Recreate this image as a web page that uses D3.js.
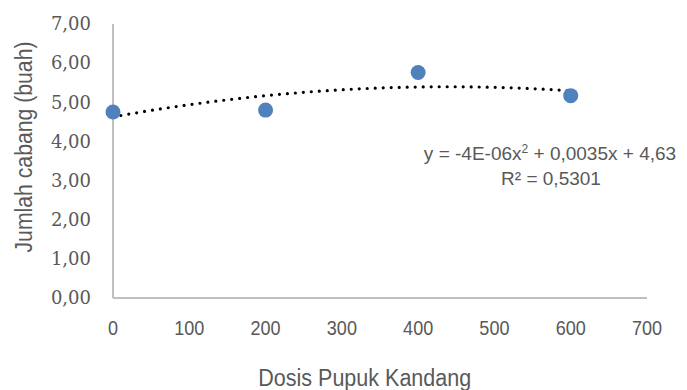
<!DOCTYPE html>
<html lang="id">
<head>
<meta charset="utf-8">
<title>Jumlah cabang</title>
<script src="https://cdn.jsdelivr.net/npm/d3@7"></script>
<style>
  body { margin: 0; background: #fff; }
  .ytick text { font-family: "DejaVu Serif", serif; font-size: 18px; fill: #595959; }
  .xtick text { font-family: "Liberation Sans", Arial, sans-serif; font-size: 21px; fill: #595959; }
  .title, .eq { font-family: "Liberation Sans", Arial, sans-serif; fill: #595959; }
  .domain-line { stroke: #bfbfbf; stroke-width: 1.5; shape-rendering: crispEdges; }
</style>
</head>
<body>
<div id="chart"></div>
<script>

// data
var dosis = [0, 200, 400, 600];
var cabang = [4.75, 4.80, 5.76, 5.17];
var xTicks = [0, 100, 200, 300, 400, 500, 600, 700];
var yTicks = [0, 1, 2, 3, 4, 5, 6, 7];
var eqLine1 = ['y = -4E-06x', '2', ' + 0,0035x + 4,63'];
var eqLine2 = 'R² = 0,5301';

var W = 687, H = 390;
var margin = { top: 24, left: 113, right: 40, bottom: 92 };
var w = W - margin.left - margin.right, h = H - margin.top - margin.bottom;

var svg = d3.select('#chart').append('svg')
    .attr('width', W).attr('height', H);

var g = svg.append('g')
    .attr('transform', 'translate(' + margin.left + ',' + margin.top + ')');

var x = d3.scaleLinear().domain([0, 700]).range([0, w]);
var y = d3.scaleLinear().domain([0, 7]).range([h, 0]);

// axes lines
g.append('line').attr('class', 'domain-line')
    .attr('x1', 0).attr('x2', 0).attr('y1', 0).attr('y2', h);
g.append('line').attr('class', 'domain-line')
    .attr('x1', 0).attr('x2', w).attr('y1', h).attr('y2', h);

// tick labels
var fmt = function(d) { return d3.format('.2f')(d).replace('.', ','); };

g.append('g').attr('class', 'ytick')
  .selectAll('text').data(yTicks).enter().append('text')
    .attr('x', -22).attr('y', function(d) { return y(d); })
    .attr('dy', '0.35em')
    .attr('text-anchor', 'end')
    .text(fmt);

// narrow font look: squeeze the x labels a bit
g.append('g').attr('class', 'xtick')
  .selectAll('text').data(xTicks).enter().append('text')
    .attr('transform', function(d) { return 'translate(' + x(d) + ',' + (h + 37) + ') scale(0.86,1)'; })
    .attr('text-anchor', 'middle')
    .text(function(d) { return d; });

// axis titles
svg.append('text').attr('class', 'title')
    .attr('x', margin.left + x(330)).attr('y', 386)
    .attr('text-anchor', 'middle').style('font-size', '23px')
    .attr('textLength', 213).attr('lengthAdjust', 'spacingAndGlyphs')
    .text('Dosis Pupuk Kandang');

svg.append('text').attr('class', 'title')
    .attr('transform', 'translate(32,147) rotate(-90)')
    .attr('text-anchor', 'middle').style('font-size', '23px')
    .attr('textLength', 211).attr('lengthAdjust', 'spacingAndGlyphs')
    .text('Jumlah cabang (buah)');

// quadratic trendline, least squares
function polyfit2(xs, ys) {
  var s = [0, 0, 0, 0, 0], t = [0, 0, 0];
  xs.forEach(function(xv, i) {
    for (var k = 0; k < 5; k++) s[k] += Math.pow(xv, k);
    for (var k2 = 0; k2 < 3; k2++) t[k2] += ys[i] * Math.pow(xv, k2);
  });
  var A = [[s[0], s[1], s[2], t[0]], [s[1], s[2], s[3], t[1]], [s[2], s[3], s[4], t[2]]];
  for (var i = 0; i < 3; i++) {
    for (var j = i + 1; j < 3; j++) {
      var f = A[j][i] / A[i][i];
      for (var k = i; k < 4; k++) A[j][k] -= f * A[i][k];
    }
  }
  var c = [0, 0, 0];
  for (var i2 = 2; i2 >= 0; i2--) {
    var sum = A[i2][3];
    for (var k3 = i2 + 1; k3 < 3; k3++) sum -= A[i2][k3] * c[k3];
    c[i2] = sum / A[i2][i2];
  }
  return c; // c0 + c1 x + c2 x^2
}

var coef = polyfit2(dosis, cabang);
var trend = d3.range(0, 600.1, 2).map(function(xv) {
  return [xv, coef[0] + coef[1] * xv + coef[2] * xv * xv];
});

g.append('path')
    .datum(trend)
    .attr('fill', 'none')
    .attr('stroke', '#000')
    .attr('stroke-width', 3.2)
    .attr('stroke-linecap', 'round')
    .attr('stroke-dasharray', '0,8')
    .attr('d', d3.line().x(function(d) { return x(d[0]); }).y(function(d) { return y(d[1]); }));

// points
g.selectAll('circle').data(dosis).enter().append('circle')
    .attr('cx', function(d) { return x(d); })
    .attr('cy', function(d, i) { return y(cabang[i]); })
    .attr('r', 7.5)
    .attr('fill', '#4f81bd');

// equation
var eq = svg.append('text').attr('class', 'eq')
    .attr('x', 550).attr('y', 160)
    .attr('text-anchor', 'middle').style('font-size', '19px');
eq.append('tspan').text(eqLine1[0]);
eq.append('tspan').attr('dy', -7).style('font-size', '12px').text(eqLine1[1]);
eq.append('tspan').attr('dy', 7).text(eqLine1[2]);

svg.append('text').attr('class', 'eq')
    .attr('x', 551).attr('y', 185)
    .attr('text-anchor', 'middle').style('font-size', '19px')
    .text(eqLine2);

</script>
</body>
</html>
